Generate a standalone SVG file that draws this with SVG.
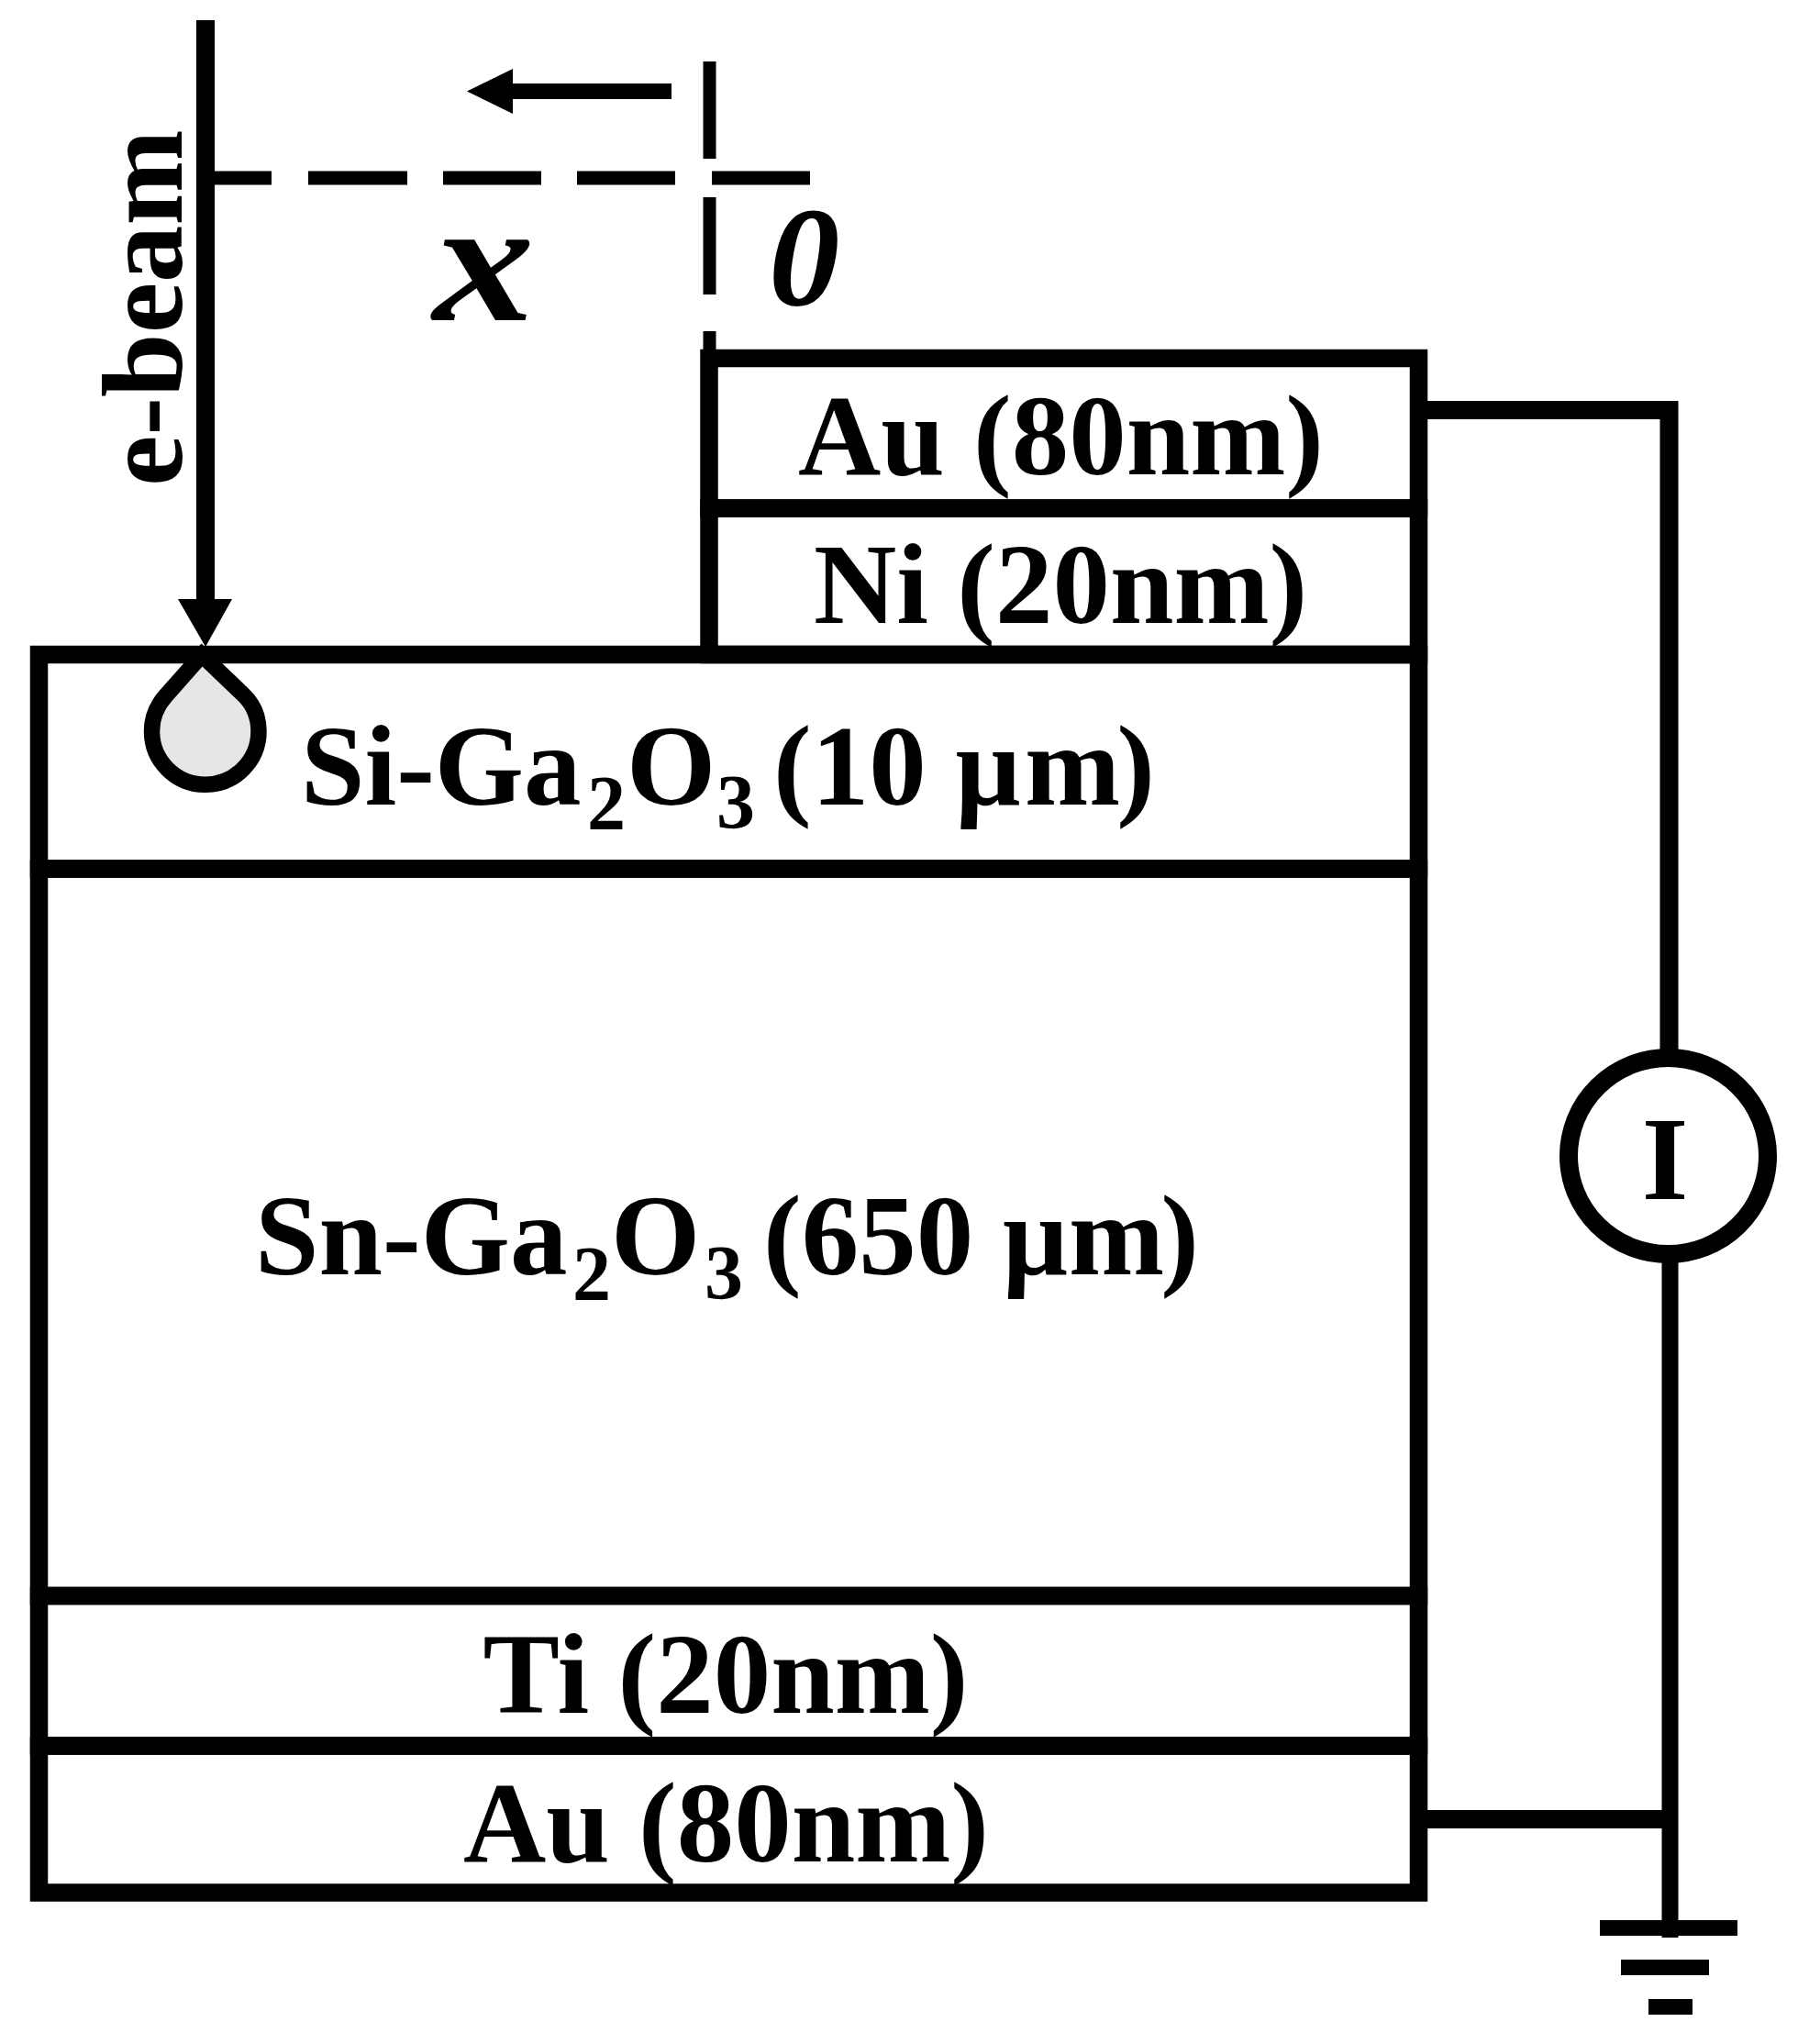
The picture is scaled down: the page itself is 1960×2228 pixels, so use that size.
<svg xmlns="http://www.w3.org/2000/svg" width="1960" height="2228" viewBox="0 0 1960 2228">
<style>
text{font-family:"Liberation Serif","Times New Roman",serif;font-weight:700;fill:#000;font-size:125px}
.sub{font-size:84px}
.tight{letter-spacing:-4px}
.s{fill:none;stroke:#000;stroke-width:19.500}
.w{fill:none;stroke:#000;stroke-width:20}
.f{fill:#000}
</style>
<rect width="1960" height="2228" fill="#fff"/>
<g id="layers">
<g id="si-layer"><path class="s" d="M42.500 713.500H1546.500V947H42.500Z"/><text x="328" y="877">Si-Ga<tspan class="sub" x="640" y="904">2</tspan><tspan x="683" y="877">O</tspan><tspan class="sub" x="781" y="903">3 </tspan><tspan x="843" y="877">(10 µ</tspan><tspan class="tight" x="1117" y="877">m)</tspan></text></g>
<g id="sn-layer"><path class="s" d="M42.500 947H1546.500V1739.500H42.500Z"/><text x="278" y="1389">Sn-Ga<tspan class="sub" x="624" y="1417">2</tspan><tspan x="666" y="1389">O</tspan><tspan class="sub" x="768" y="1416">3 </tspan><tspan x="832" y="1389">(650 µ</tspan><tspan class="tight" x="1165" y="1389">m)</tspan></text></g>
<g id="ti-layer"><path class="s" d="M42.500 1739.500H1546.500V1903H42.500Z"/><text x="526.500" y="1867">Ti (20nm)</text></g>
<g id="au-bottom"><path class="s" d="M42.500 1903H1546.500V2063H42.500Z"/><text x="505" y="2029">Au (80nm)</text></g>
<g id="au-top"><path class="s" d="M773 390.500H1546.500V554H773Z"/><text x="870" y="517">Au (80nm)</text></g>
<g id="ni-layer"><path class="s" d="M773 554H1546.500V713.500H773Z"/><text x="887" y="679">Ni (20nm)</text></g>
</g>
<g id="connectors">
<path class="w" d="M224 22V670"/>
<path class="f" d="M194 653H253L224 705Z"/>
<path fill="none" stroke="#000" stroke-width="15" d="M234 194H296M336 194H444M483 194H590M629 194H736M776 194H883"/>
<path fill="none" stroke="#000" stroke-width="14" d="M773.500 67V173M773.500 215V321M773.500 361V383"/>
<path fill="none" stroke="#000" stroke-width="17" d="M732 99.500H555"/>
<path class="f" d="M509 99.500L559 75V124Z"/>
<path class="w" d="M1550 447H1819.500V1150"/>
<path fill="none" stroke="#000" stroke-width="18" d="M1820.500 1370V1983V2112"/>
<path class="w" d="M1550 1983H1820"/>
<path fill="none" stroke="#000" stroke-width="17" d="M1744 2101.500H1894M1767 2144.500H1863M1797 2187.500H1845"/>
</g>
<g id="droplet"><path d="M220 714L264 756C276 767 282 782 282 797A58.250 58.250 0 0 1 165.500 797C165.500 783 171 769 181 758Z" fill="#e6e6e6" stroke="#000" stroke-width="17.500"/></g>
<g id="meter"><ellipse cx="1818.500" cy="1260" rx="108.500" ry="107" fill="#fff" stroke="#000" stroke-width="20"/><text x="1815" y="1307" text-anchor="middle" style="font-size:130px">I</text></g>
<text id="ebeam" transform="translate(198 530) rotate(-90)">e-beam</text>
<text id="xlabel" transform="translate(472 349) scale(1.08 .93)" style="font-size:205px;font-style:italic">x</text>
<text id="zero" x="838" y="332" style="font-size:155px;font-style:italic">0</text>
</svg>
